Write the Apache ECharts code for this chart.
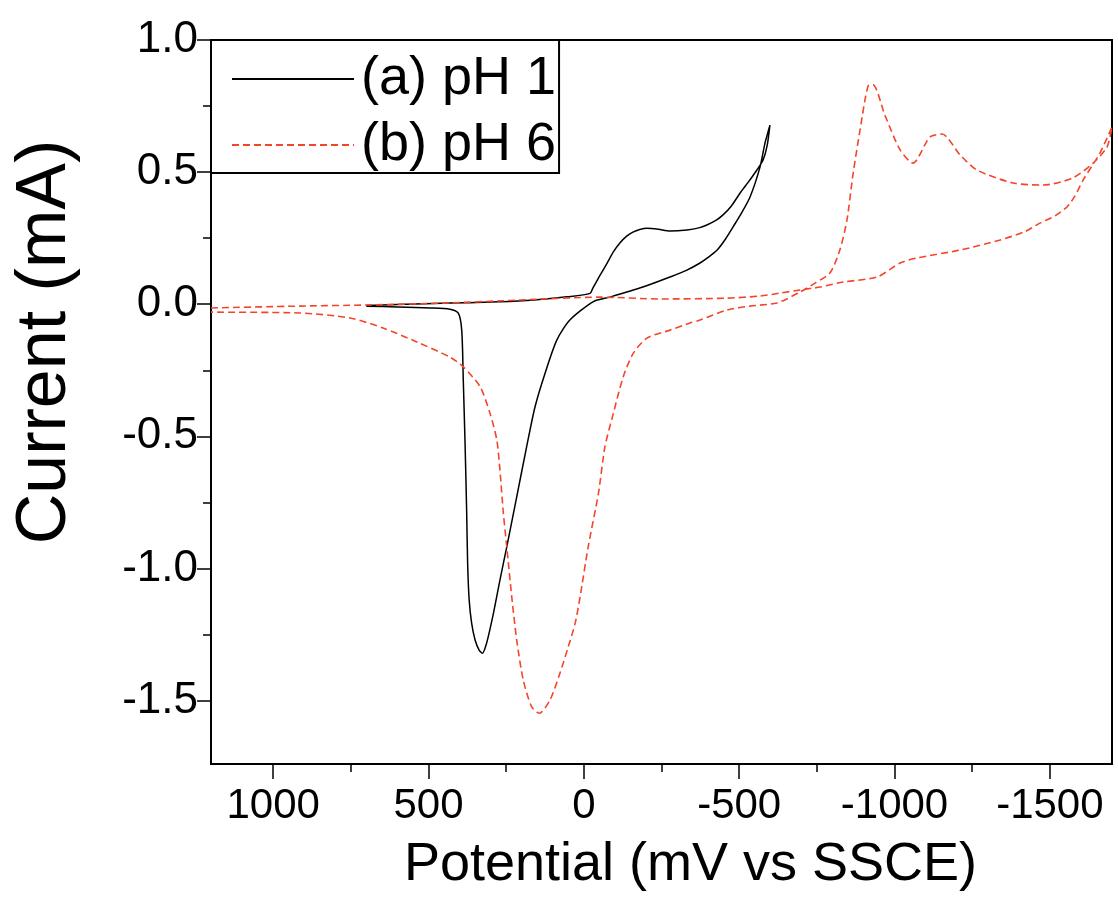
<!DOCTYPE html>
<html>
<head>
<meta charset="utf-8">
<script src="https://cdn.jsdelivr.net/npm/echarts@6/dist/echarts.min.js"></script>
<style>
html,body{margin:0;padding:0;background:#fff;}
#chart{width:1118px;height:913px;}
</style>
</head>
<body>
<div id="chart"></div>
<script>
// ---- data ----
const seriesNames = ['(a) pH 1', '(b) pH 6'];

// (a) pH 1 : potential (mV vs SSCE), current (mA), in scan order
const phA_x = [700, 600, 485, 380, 270, 160, 54, -20, -29, -50, -75, -95, -116, -138, -158, -180, -203, -240, -277, -332, -370, -396, -425, -448, -475, -503, -530, -557, -577, -590, -599,
  -590, -583, -567, -535, -505, -480, -455, -429, -400, -374, -330, -277, -190, -84, -31, 45, 87, 125, 157, 184, 216, 248, 270, 291, 313, 327, 337, 350, 361, 369, 374, 377, 382, 388, 393, 404, 431, 495, 600, 700];
const phA_y = [-0.005, -0.001, 0.003, 0.006, 0.009, 0.016, 0.028, 0.041, 0.061, 0.105, 0.156, 0.198, 0.232, 0.258, 0.273, 0.283, 0.288, 0.284, 0.277, 0.281, 0.289, 0.300, 0.317, 0.338, 0.372, 0.421, 0.463, 0.508, 0.546, 0.600, 0.678,
  0.640, 0.610, 0.519, 0.406, 0.340, 0.292, 0.245, 0.205, 0.177, 0.156, 0.128, 0.103, 0.065, 0.027, 0.010, -0.060, -0.136, -0.262, -0.388, -0.539, -0.729, -0.918, -1.044, -1.170, -1.283, -1.321, -1.309, -1.271, -1.208, -1.120, -0.981, -0.791, -0.539, -0.287, -0.098, -0.034, -0.019, -0.014, -0.010, -0.008];

// (b) pH 6
const phB_x = [1200, 914, 698, 431, 205, -52, -245, -461, -567, -631, -696, -760, -834, -944, -1018, -1072, -1211, -1340, -1420, -1468, -1516, -1555, -1581, -1607, -1661, -1700,
  -1684, -1639, -1574, -1478, -1381, -1265, -1211, -1153, -1114, -1059, -1018, -969, -931, -915, -889, -866, -847, -824, -792, -744, -696, -622, -535, -461, -374, -342, -277, -203, -159, -127, -95, -68, -47, -14, 12, 28, 50, 77, 109, 143, 168, 195, 216, 232, 248, 259, 270, 280, 302, 334, 388, 431, 537, 646, 753, 914, 1200];
const phB_y = [-0.014, -0.007, -0.003, 0.005, 0.016, 0.027, 0.020, 0.023, 0.031, 0.042, 0.054, 0.065, 0.084, 0.103, 0.156, 0.175, 0.205, 0.243, 0.275, 0.307, 0.334, 0.368, 0.410, 0.470, 0.572, 0.671,
  0.595, 0.534, 0.478, 0.451, 0.459, 0.508, 0.565, 0.644, 0.633, 0.534, 0.584, 0.716, 0.830, 0.826, 0.659, 0.489, 0.319, 0.205, 0.118, 0.080, 0.046, 0.005, -0.007, -0.022, -0.060, -0.071, -0.098, -0.128, -0.186, -0.274, -0.413, -0.539, -0.716, -0.918, -1.107, -1.208, -1.296, -1.397, -1.498, -1.548, -1.523, -1.422, -1.271, -1.107, -0.918, -0.791, -0.628, -0.514, -0.413, -0.312, -0.237, -0.200, -0.143, -0.090, -0.052, -0.033, -0.030];

const xMajorTicks = [1000, 500, 0, -500, -1000, -1500];
const xMinorTicks = [750, 250, -250, -750, -1250];
const yMajorTicks = [1.0, 0.5, 0.0, -0.5, -1.0, -1.5];
const yMinorTicks = [0.75, 0.25, -0.25, -0.75, -1.25];
const xName = 'Potential (mV vs SSCE)';
const yName = 'Current (mA)';

// ---- chart ----
const FONT = '"Liberation Sans", Arial, Helvetica, sans-serif';
const pairs = (xs, ys) => xs.map((x, i) => [x, ys[i]]);
const xMin = -1700, xMax = 1200, yMin = -1.74, yMax = 1.0;

const chart = echarts.init(document.getElementById('chart'), null, {renderer: 'canvas'});
chart.setOption({
  animation: false,
  backgroundColor: '#fff',
  grid: {left: 211, right: 6, top: 40, bottom: 149, show: true, borderColor: '#000', borderWidth: 2,
    backgroundColor: 'transparent', containLabel: false, outerBoundsMode: 'none'},
  legend: {
    show: true, orient: 'vertical', left: 211, top: 40,
    padding: [11, 3, 0, 20], itemGap: 10, itemWidth: 122, itemHeight: 20,
    borderColor: '#000', borderWidth: 2, backgroundColor: '#fff', selectedMode: false,
    itemStyle: {opacity: 0},
    textStyle: {fontFamily: FONT, fontSize: 54, lineHeight: 56, color: '#000', padding: [0, 0, 0, 2]},
    data: seriesNames
  },
  xAxis: [{
    type: 'value', min: xMin, max: xMax, inverse: true,
    name: xName, nameLocation: 'middle', nameGap: 74,
    nameTextStyle: {fontFamily: FONT, fontSize: 54, color: '#000', padding: [0, 0, 0, 58]},
    axisLine: {show: true, onZero: false, lineStyle: {color: '#000', width: 2}},
    axisTick: {show: true, length: 15, customValues: xMajorTicks, lineStyle: {color: '#000', width: 1.5}},
    axisLabel: {show: true, customValues: xMajorTicks, margin: 21, fontFamily: FONT, fontSize: 42, color: '#000',
      formatter: v => String(v)},
    splitLine: {show: false}
  }, {
    type: 'value', min: xMin, max: xMax, inverse: true, position: 'bottom', offset: 0,
    axisLine: {show: false, onZero: false},
    axisTick: {show: true, length: 8, customValues: xMinorTicks, lineStyle: {color: '#000', width: 1.5}},
    axisLabel: {show: false}, splitLine: {show: false}
  }],
  yAxis: [{
    type: 'value', min: yMin, max: yMax,
    name: yName, nameLocation: 'middle', nameGap: 130, nameRotate: 90,
    nameTextStyle: {fontFamily: FONT, fontSize: 70, color: '#000', padding: [0, 0, 0, 120]},
    axisLine: {show: true, onZero: false, lineStyle: {color: '#000', width: 2}},
    axisTick: {show: true, length: 14, customValues: yMajorTicks, lineStyle: {color: '#000', width: 1.5}},
    axisLabel: {show: true, customValues: yMajorTicks, margin: 13, fontFamily: FONT, fontSize: 44, color: '#000',
      formatter: v => v.toFixed(1)},
    splitLine: {show: false}
  }, {
    type: 'value', min: yMin, max: yMax, position: 'left', offset: 0,
    axisLine: {show: false, onZero: false},
    axisTick: {show: true, length: 8, customValues: yMinorTicks, lineStyle: {color: '#000', width: 1.5}},
    axisLabel: {show: false}, splitLine: {show: false}
  }],
  series: [{
    name: seriesNames[0], type: 'line', xAxisIndex: 0, yAxisIndex: 0,
    data: pairs(phA_x, phA_y), symbol: 'none', smooth: 0.25, clip: true,
    lineStyle: {color: '#000', width: 1.5, type: 'solid'}, itemStyle: {color: '#000'}
  }, {
    name: seriesNames[1], type: 'line', xAxisIndex: 0, yAxisIndex: 0,
    data: pairs(phB_x, phB_y), symbol: 'none', smooth: 0.25, clip: true,
    lineStyle: {color: '#f4452a', width: 1.6, type: [7, 4]}, itemStyle: {color: '#f4452a'}
  }]
});
</script>
</body>
</html>
